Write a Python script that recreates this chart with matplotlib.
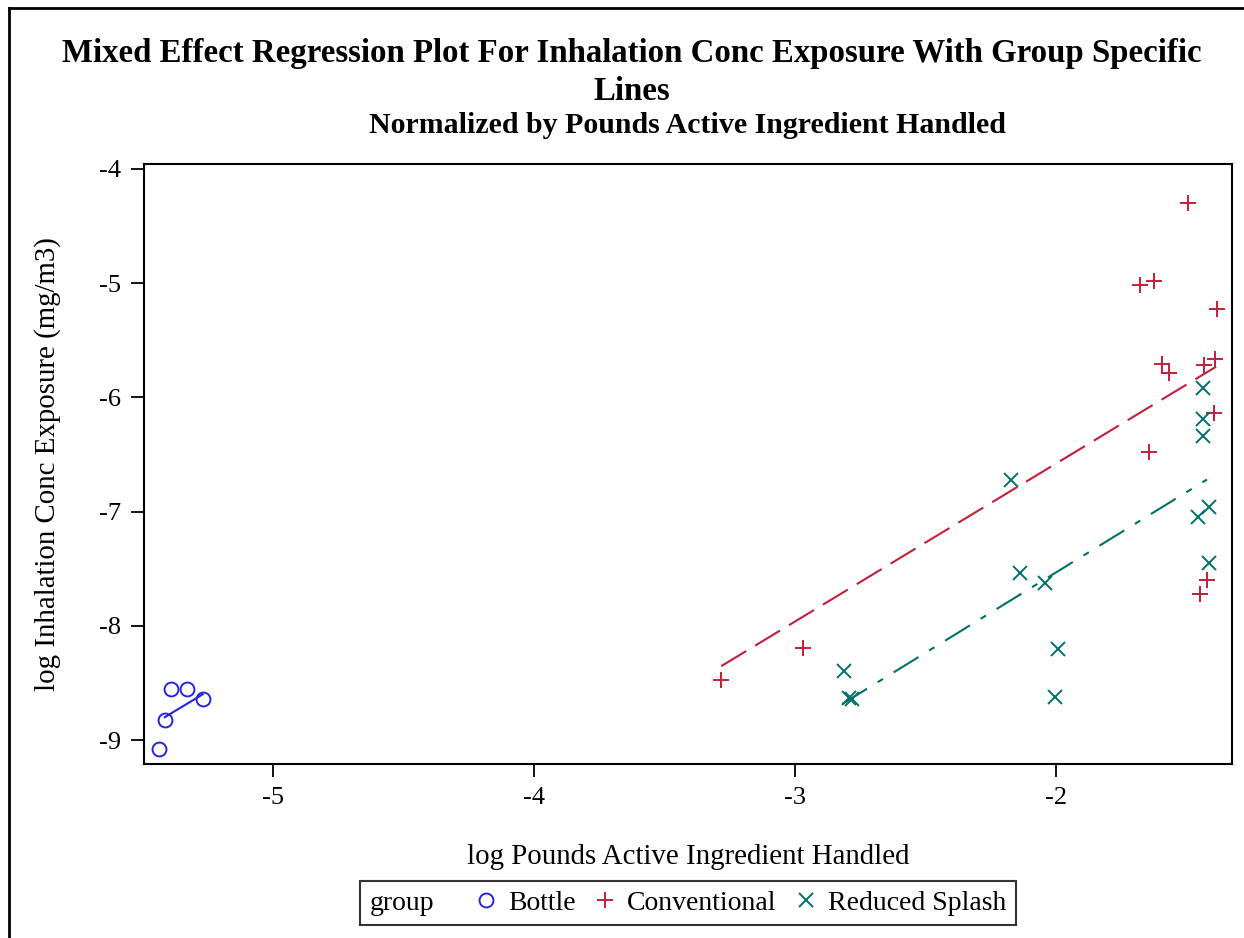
import matplotlib
matplotlib.use("Agg")
import matplotlib.pyplot as plt
from matplotlib.lines import Line2D
from matplotlib.offsetbox import HPacker

plt.rcParams['font.family'] = ['Liberation Serif', 'DejaVu Serif']
plt.rcParams['axes.unicode_minus'] = False

# datos
bottle_x = [-5.436, -5.413, -5.390, -5.329, -5.268]
bottle_y = [-9.079, -8.825, -8.554, -8.554, -8.642]

conv_x = [-1.494, -1.678, -1.625, -1.384, -1.594, -1.567, -1.433, -1.391,
          -1.395, -1.644, -1.422, -1.449, -2.968, -3.282]
conv_y = [-4.297, -5.014, -4.979, -5.224, -5.705, -5.783, -5.713, -5.661,
          -6.133, -6.474, -7.601, -7.724, -8.196, -8.476]

splash_x = [-1.437, -1.437, -1.437, -1.414, -1.456, -1.414, -2.811, -2.792,
            -2.780, -1.992, -2.003, -2.172, -2.137, -2.042]
splash_y = [-5.914, -6.185, -6.334, -6.963, -7.051, -7.453, -8.397, -8.633,
            -8.642, -8.205, -8.624, -6.719, -7.540, -7.628]

# rectas del modelo mixto (extremos)
bottle_fit_x = [-5.413, -5.268]
bottle_fit_y = [-8.800, -8.600]
conv_fit_x = [-3.282, -1.387]
conv_fit_y = [-8.353, -5.731]
splash_fit_x = [-2.819, -1.422]
splash_fit_y = [-8.685, -6.719]

groups = ['Bottle', 'Conventional', 'Reduced Splash']
colors = {'Bottle': '#2424E0', 'Conventional': '#C41E3A', 'Reduced Splash': '#00706A'}

fig = plt.figure(figsize=(12.44, 9.38), dpi=100)
ax = fig.add_axes([0.1158, 0.1855, 0.8746, 0.6397])

ax.plot(bottle_x, bottle_y, 'o', mfc='none', mec=colors['Bottle'], ms=10, mew=1.4)
ax.plot(conv_x, conv_y, '+', color=colors['Conventional'], ms=12, mew=1.4)
ax.plot(splash_x, splash_y, 'x', color=colors['Reduced Splash'], ms=10.5, mew=1.4)

ax.plot(bottle_fit_x, bottle_fit_y, '-', color=colors['Bottle'], lw=1.5)
ax.plot(conv_fit_x, conv_fit_y, color=colors['Conventional'], lw=1.5, dashes=(14, 5))
ax.plot(splash_fit_x, splash_fit_y, color=colors['Reduced Splash'], lw=1.5,
        dashes=(14, 6, 3, 6))

ax.set_xlim(-5.4925, -1.326)
ax.set_ylim(-9.21, -3.956)
ax.set_xticks([-5, -4, -3, -2])
ax.set_yticks([-9, -8, -7, -6, -5, -4])
ax.tick_params(direction='out', length=9.5, width=1.3, labelsize=19, pad=7)
for s in ax.spines.values():
    s.set_linewidth(1.5)

ax.set_xlabel('log Pounds Active Ingredient Handled', fontsize=20.8, va='center')
ax.set_ylabel('log Inhalation Conc Exposure (mg/m3)', fontsize=20.8, va='center')
ax.xaxis.set_label_coords(0.5, -0.155)
ax.yaxis.set_label_coords(-0.089, 0.5)

fig.text(0.508, 0.9225, 'Mixed Effect Regression Plot For Inhalation Conc Exposure With Group Specific\nLines',
         ha='center', va='center', fontsize=23.7, fontweight='bold', linespacing=1.3)
fig.text(0.553, 0.8667, 'Normalized by Pounds Active Ingredient Handled',
         ha='center', va='center', fontsize=21.5, fontweight='bold')

# borde exterior
fig.add_artist(Line2D([0.0072, 0.0072], [0, 0.9915], transform=fig.transFigure, color='black', lw=2))
fig.add_artist(Line2D([0.0072, 0.999], [0.9915, 0.9915], transform=fig.transFigure, color='black', lw=2))

handles = [Line2D([], [], ls='none', marker='o', mfc='none', mec=colors['Bottle'], ms=10, mew=1.4),
           Line2D([], [], ls='none', marker='+', color=colors['Conventional'], ms=12, mew=1.4),
           Line2D([], [], ls='none', marker='x', color=colors['Reduced Splash'], ms=10, mew=1.4)]
leg = fig.legend(handles, groups, title='group', title_fontsize=20, loc='center',
                 bbox_to_anchor=(0.553, 0.0373), ncol=3,
                 fontsize=20, frameon=True, fancybox=False, edgecolor='black',
                 handlelength=0.9, handletextpad=0.35, columnspacing=0.6,
                 borderpad=0.35)
leg.get_frame().set_linewidth(1.5)
# poner el titulo "group" a la izquierda, en la misma fila
fs = leg._fontsize
leg._legend_box = HPacker(pad=leg.borderpad * fs, sep=1.4 * fs, align='center',
                          children=[leg._legend_title_box, leg._legend_handle_box])
leg._legend_box.set_figure(fig)
leg._legend_box.set_offset(leg._findoffset)

fig.savefig('out.png', dpi=100)
